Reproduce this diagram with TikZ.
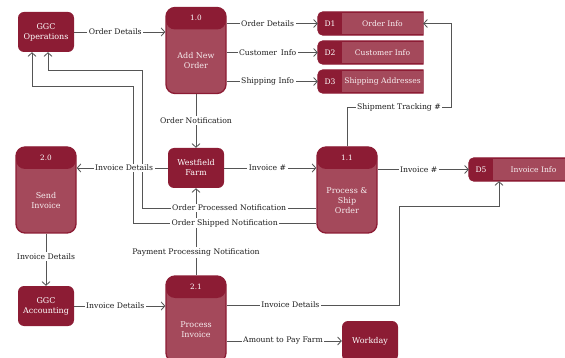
\documentclass[tikz,border=0pt]{standalone}
\usepackage{fontspec}
\setmainfont{DejaVu Serif}
\usetikzlibrary{arrows.meta,calc}

\definecolor{wine}{RGB}{140,28,52}
\definecolor{winelight}{RGB}{164,73,91}
\definecolor{flowgray}{RGB}{85,85,85}
\definecolor{labelink}{RGB}{30,30,30}

\tikzset{
  extent/.style={rectangle, rounded corners=6pt, fill=wine, text=white,
    minimum width=56pt, minimum height=40pt, align=center, inner sep=1pt,
    font=\fontsize{8}{10}\selectfont},
  procbox/.style={rectangle, rounded corners=9pt, fill=winelight, draw=wine,
    line width=1.3pt, minimum width=60pt, minimum height=86pt, inner sep=0pt,
    path picture={\fill[wine] (path picture bounding box.north west)
      rectangle ([yshift=-22pt]path picture bounding box.north east);}},
  procnum/.style={text=white, font=\fontsize{7.3}{8}\selectfont, inner sep=0pt},
  proctext/.style={text=white!90!winelight, align=center, inner sep=0pt,
    font=\fontsize{8}{10}\selectfont},
  storebox/.style={rectangle, minimum width=105pt, minimum height=23pt, inner sep=0pt},
  storetag/.style={text=white, font=\fontsize{7.6}{8}\selectfont, inner sep=0pt},
  storetext/.style={text=white!92!winelight, font=\fontsize{7.6}{8}\selectfont, inner sep=0pt},
  flow/.style={draw=flowgray, line width=0.85pt, -{Straight Barb[length=3.6pt,width=8pt]}},
  lab/.style={fill=white, text=labelink, inner sep=1.5pt, font=\fontsize{7.7}{9}\selectfont},
}

% process bubble: name, position, number, title
\newcommand{\procnode}[4]{%
  \node[procbox] (#1) at (#2) {};
  \node[procnum] at ([yshift=-11pt]#1.north) {#3};
  \node[proctext] at ([yshift=-10.5pt]#1.center) {#4};
}
% data store: name, position, tag, title
\newcommand{\storenode}[4]{%
  \node[storebox] (#1) at (#2) {};
  \filldraw[wine, line width=0.8pt] (#1.north east) [rounded corners=5pt]
    -- (#1.north west) -- (#1.south west) [sharp corners] -- (#1.south east) -- cycle;
  \fill[winelight] ([xshift=24pt,yshift=-1.6pt]#1.north west)
    rectangle ([yshift=1.6pt]#1.south east);
  \node[storetag] at ([xshift=-40.5pt]#1.center) {#3};
  \node[storetext] at ([xshift=12pt]#1.center) {#4};
}

\begin{document}
\begin{tikzpicture}[x=1pt, y=-1pt]
\useasboundingbox (0,0) rectangle (565,358);
\begin{scope}
\clip (0,0) rectangle (565,358);

% external entities
\node[extent] (ops)  at (46,32)  {GGC\\Operations};
\node[extent] (acct) at (46,306) {GGC\\Accounting};
\node[extent] (farm) at (196,168) {Westfield\\Farm};
\node[extent] (work) at (370,341) {Workday};

% processes
\procnode{add}{196,50.5}{1.0}{Add New\\Order}
\procnode{send}{46,190}{2.0}{Send\\Invoice}
\procnode{ship}{347,190}{1.1}{Process \&\\Ship\\Order}
\procnode{pay}{196,319}{2.1}{Process\\Invoice}

% data stores
\storenode{d1}{370.5,23.5}{D1}{Order Info}
\storenode{d2}{370.5,52.5}{D2}{Customer Info}
\storenode{d3}{370.5,81.5}{D3}{Shipping Addresses}
\storenode{d5}{521.5,169.5}{D5}{Invoice Info}

% bend points
\coordinate (kproc) at (142,70);
\coordinate (kship) at (133,86);
\coordinate (ktrack) at (451,107);
\coordinate (kinv) at (399,206);

% flows (crossing lines first, so the labels sit on top)
\draw[flow] (pay.north) -- node[lab, pos=0.26]{Payment Processing Notification} (farm.south);
\draw[flow] ([yshift=-18pt]ship.west) -| node[lab, pos=0.25]{Order Processed Notification} (kproc)
  -| ([xshift=2pt]ops.south);
\draw[flow] ([yshift=-33pt]ship.west) -| node[lab, pos=0.25]{Order Shipped Notification} (kship)
  -| ([xshift=-14pt]ops.south);

\draw[flow] (ops.east) -- node[lab, pos=0.45]{Order Details} (ops.east -| add.west);
\draw[flow] (d1.west -| add.east) -- node[lab, pos=0.45]{Order Details} (d1.west);
\draw[flow] (d2.west -| add.east) -- node[lab, pos=0.45]{Customer\, Info} (d2.west);
\draw[flow] (d3.west -| add.east) -- node[lab, pos=0.45]{Shipping Info} (d3.west);
\draw[flow] (add.south) -- node[lab]{Order Notification} (farm.north);
\draw[flow] (ship.north) |- node[lab, pos=0.75]{Shipment Tracking \#} (ktrack)
  -- (ktrack |- d1.east) -- (d1.east);
\draw[flow] (farm.west) -- node[lab, pos=0.48]{Invoice Details} (farm.west -| send.east);
\draw[flow] (farm.east) -- node[lab, pos=0.47]{Invoice \#} (farm.east -| ship.west);
\draw[flow] (d5.west -| ship.east) -- node[lab, pos=0.45]{Invoice \#} (d5.west);
\draw[flow] (send.south) -- node[lab, pos=0.44]{Invoice Details} (acct.north);
\draw[flow] (acct.east) -- node[lab, pos=0.45]{Invoice Details} (acct.east -| pay.west);
\draw[flow] ([yshift=14pt]pay.east) -| node[lab, pos=0.185]{Invoice Details} (kinv)
  -| ([xshift=-22.5pt]d5.south);
\draw[flow] (work.west -| pay.east) -- node[lab, pos=0.49]{Amount to Pay Farm} (work.west);
\end{scope}
\end{tikzpicture}
\end{document}
